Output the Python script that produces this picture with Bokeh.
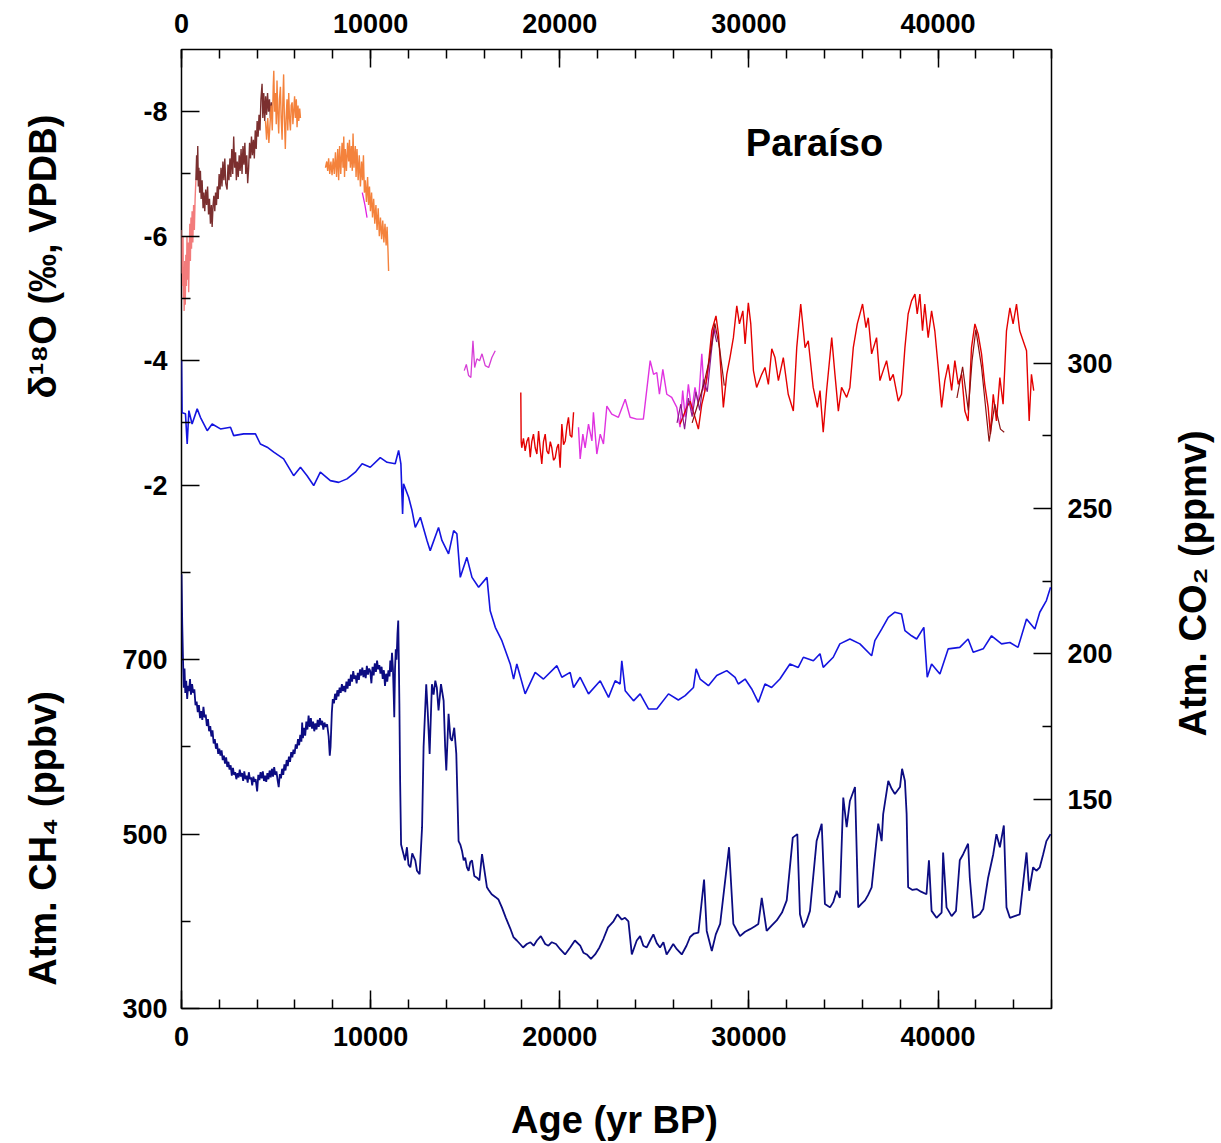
from bokeh.plotting import figure
from bokeh.layouts import row, column
from bokeh.models import Range1d, LinearAxis, FixedTicker, CustomJSTickFormatter, Label
from bokeh.core.properties import value
from bokeh.embed import file_html
from bokeh.resources import INLINE
import math

# ---------------- data ----------------
co2_age = [0, 30, 210, 300, 390, 560, 830, 1000, 1360, 1620, 2060, 2590, 2760, 3290, 3910, 4170, 4530, 4880,
           5400, 5930, 6290, 6640, 6990, 7340, 7870, 8310, 8750, 9190, 9550, 9980, 10510, 10870, 11300, 11480,
           11600, 11690, 11740, 12010, 12190, 12360, 12630, 12980, 13150, 13590, 13770, 14120, 14390, 14560,
           14740, 15090, 15360, 15710, 16150, 16320, 16590, 16940, 17380, 17560, 17730, 18170, 18700, 19140,
           19850, 20110, 20550, 20730, 21080, 21520, 22140, 22580, 22930, 23190, 23280, 23460, 23900, 24250,
           24690, 25130, 25750, 26270, 26630, 27070, 27210, 27420, 27860, 28300, 28830, 29270, 29440, 29800,
           30150, 30500, 30850, 31200, 31640, 32170, 32610, 32880, 33410, 33760, 33930, 34460, 34810, 35340,
           35870, 36490, 36660, 37020, 37370, 37720, 38070, 38250, 38600, 38870, 39250, 39430, 39660, 40100,
           40540, 41150, 41590, 41860, 42390, 42830, 43360, 43800, 44230, 44680, 45120, 45380, 45730, 45950]
co2_ppm = [301, 283, 282.6, 272.2, 283.7, 279.1, 284.3, 281.4, 276.8, 279.1, 277.4, 278, 275.1, 275.7, 275.7,
           272.2, 271.1, 269.4, 267.1, 261.3, 264.2, 261.3, 257.9, 262.5, 259.6, 259, 260.2, 262.5, 265.4, 264.2,
           267.5, 265.9, 265.4, 270, 265.4, 248.1, 258.5, 253.9, 249.3, 243.5, 247, 239, 235.5, 243.5, 239,
           234.4, 242.4, 241.3, 226.3, 233.2, 226.3, 222.9, 226.3, 214.8, 209.1, 204.5, 196.5, 191.3, 196.5,
           186.2, 193.6, 191.3, 195.9, 191.9, 193.6, 188.4, 191.9, 186.2, 190.7, 185, 190.7, 189.6, 197.6,
           187.3, 183.8, 186.2, 181, 181, 186.2, 184.1, 185.6, 188.4, 194.8, 191.3, 189, 192.5, 194.2, 191.9,
           189.6, 191.3, 187.9, 183.3, 189.6, 188.4, 191.3, 196.5, 195.3, 198.8, 197.6, 200, 195.3, 198.8,
           203.4, 205.1, 203.4, 199.3, 204.5, 208.5, 212.5, 214.3, 213.7, 208, 206.2, 205.1, 209.1, 191.9,
           196.5, 193, 201.7, 202.2, 205.1, 200.5, 201.7, 206.2, 203.4, 203.9, 202.2, 212, 208.5, 214.3, 218.3,
           222.9]

# CH4: Holocene part (0-11 ka) and older part
ch4_age_holo = [0, 40, 80, 120, 160, 200, 250, 300, 350, 400, 450, 500, 560, 620, 680, 740, 800, 860, 920, 980,
                1040, 1100, 1160, 1220, 1280, 1340, 1400, 1460, 1520, 1580, 1640, 1700, 1760, 1820, 1880, 1940,
                2000, 2060, 2120, 2180, 2240, 2300, 2360, 2420, 2480, 2540, 2600, 2660, 2720, 2780, 2840, 2900,
                2960, 3020, 3080, 3140, 3200, 3260, 3320, 3380, 3440, 3500, 3560, 3620, 3680, 3740, 3800, 3860,
                3920, 4000, 4060, 4120, 4180, 4240, 4300, 4360, 4420, 4480, 4540, 4600, 4660, 4720, 4780, 4840,
                4900, 4960, 5020, 5080, 5140, 5200, 5260, 5320, 5380, 5440, 5500, 5560, 5620, 5680, 5740, 5800,
                5860, 5920, 5980, 6040, 6100, 6160, 6220, 6280, 6340, 6380, 6420, 6480, 6540, 6600, 6660, 6720,
                6780, 6840, 6900, 6960, 7020, 7080, 7140, 7200, 7260, 7320, 7380, 7440, 7500, 7560, 7620, 7700,
                7780, 7840, 7880, 7950, 8000, 8060, 8120, 8180, 8240, 8300, 8360, 8420, 8480, 8540, 8600, 8660,
                8720, 8780, 8840, 8900, 8960, 9020, 9080, 9140, 9200, 9260, 9320, 9380, 9440, 9500, 9560, 9620,
                9680, 9740, 9800, 9860, 9920, 9980, 10040, 10100, 10160, 10220, 10280, 10340, 10400, 10460, 10520,
                10580, 10640, 10700, 10760, 10820, 10880, 10940, 11000]
ch4_ppb_holo = [798, 740, 700, 668, 690, 662, 676, 655, 670, 664, 678, 660, 672, 662, 666, 648, 652, 640, 648, 633,
                641, 631, 646, 634, 637, 624, 632, 618, 624, 612, 619, 604, 609, 598, 604, 592, 598,
                590, 596, 585, 590, 581, 588, 577, 583, 574, 579, 567, 576, 568, 571, 563, 570, 565,
                574, 566, 570, 561, 572, 563, 567, 559, 571, 563, 565, 556, 566, 560, 563, 549,
                568, 562, 571, 564, 572, 561, 567, 560, 570, 563, 573, 565, 575, 566, 577, 568, 572, 562,
                554, 569, 564, 575, 568, 580, 573, 585, 578, 589, 583, 594, 588, 597, 592, 603, 598,
                609, 602, 614, 606, 628, 610, 622, 613, 629, 620, 636, 623, 633, 621, 629, 618, 627,
                620, 631, 623, 633, 625, 630, 620, 628, 623, 626,
                612, 590, 600, 640, 655,
                650, 661, 654, 665, 658, 668, 662, 672, 664, 670, 663, 675, 667, 678, 670, 683, 675, 687, 678, 682,
                673, 685, 677, 689, 682, 691, 680, 688, 679, 693, 683, 690, 687,
                673, 692, 682, 696, 686, 699, 689, 694, 684, 692, 678, 688, 670, 684, 675, 688, 681]
ch4_age_old = [11040, 11080, 11130, 11180, 11220, 11250, 11290, 11330, 11370, 11420, 11460, 11490, 11520, 11560,
               11610, 11740, 11820, 11920, 12000, 12100, 12200, 12360, 12450, 12590, 12720, 12800, 12940, 13020,
               13120, 13240, 13330, 13420, 13500, 13590, 13720, 13860, 13940, 14000, 14120, 14220, 14300, 14420,
               14530, 14650, 14740, 14830, 14920, 15000, 15090, 15180, 15270, 15360, 15480, 15620, 15750, 15890,
               16060, 16150, 16240, 16400, 16590, 16760, 16940, 17150, 17380, 17550, 17730, 17900, 18060, 18260,
               18450, 18620, 18790, 19000, 19230, 19400, 19580, 19800, 20020, 20280, 20550, 20800, 21080, 21250,
               21430, 21650, 21870, 22100, 22310, 22550, 22840, 23050, 23280, 23450, 23630, 23810, 24070, 24250,
               24420, 24600, 24780, 24950, 25130, 25300, 25480, 25650, 25830, 26000, 26190, 26450, 26700, 26890,
               27100, 27330, 27630, 27770, 28040, 28250, 28480, 28950, 29180, 29350, 29530, 29800, 30060, 30300,
               30500, 30680, 30940, 31200, 31470, 31750, 32000, 32320, 32560, 32700, 32880, 33050, 33230, 33580,
               33850, 34020, 34290, 34460, 34640, 34810, 34990, 35170, 35340, 35610, 35780, 35950, 36140, 36300,
               36490, 36840, 37020, 37100, 37370, 37550, 37720, 37990, 38100, 38250, 38340, 38420, 38650, 38870,
               39100, 39390, 39520, 39660, 39920, 40190, 40270, 40450, 40720, 40950, 41150, 41330, 41590, 41680,
               41860, 42050, 42210, 42390, 42650, 42920, 43090, 43270, 43480, 43620, 43800, 44050, 44320, 44680,
               44820, 45030, 45200, 45380, 45550, 45730, 45950]
ch4_ppb_old = [699, 686, 708, 690, 660, 634, 690, 712, 700, 730, 745, 700, 650, 560, 488, 477, 470, 485, 465, 462,
               478, 470, 458, 454, 508, 600, 672, 640, 592, 672, 660, 676, 668, 642, 672, 653, 600, 573, 638, 610,
               607, 622, 592, 492, 488, 481, 470, 473, 462, 458, 468, 470, 452, 450, 447, 477, 452, 439, 436, 431,
               428, 425, 416, 404, 392, 382, 378, 374, 370, 374, 376, 372, 378, 383, 374, 372, 376, 374, 368, 362,
               370, 378, 372, 364, 362, 357, 362, 370, 380, 393, 400, 408, 402, 404, 400, 362, 378, 383, 372, 370,
               378, 385, 375, 370, 376, 362, 368, 374, 368, 362, 372, 382, 386, 387, 448, 389, 366, 385, 397, 485,
               397, 390, 383, 388, 391, 394, 397, 427, 389, 395, 401, 410, 424, 496, 500, 408, 393, 400, 412, 492,
               512, 420, 416, 422, 435, 427, 542, 508, 538, 554, 416, 420, 424, 430, 439, 512, 492, 523, 561, 552,
               546, 554, 575, 561, 523, 439, 436, 437, 434, 431, 470, 412, 404, 410, 479, 416, 406, 412, 470, 477,
               489, 450, 404, 406, 408, 414, 450, 477, 500, 485, 510, 416, 404, 406, 408, 479, 435, 462, 458, 462,
               476, 492, 500]
ch4_age = ch4_age_holo + ch4_age_old
ch4_ppb = ch4_ppb_holo + ch4_ppb_old

# delta18O (permil VPDB), several speleothem records
pink_age = [0, 20, 40, 60, 80, 100, 120, 140, 170, 200, 230, 260, 290, 320, 350, 380, 410, 440, 470, 500, 530,
            560, 600, 640, 680, 720, 760]
pink_d18o = [-6.1, -5.4, -5.9, -5.2, -6.0, -5.0, -5.5, -4.8, -5.6, -4.9, -5.7, -5.2, -6.0, -5.3, -5.9, -5.1,
             -5.7, -6.2, -5.6, -6.3, -5.8, -6.4, -5.9, -6.5, -6.1, -6.6, -6.9]

brown_age = [760, 800, 830, 860, 890, 920, 960, 1000, 1040, 1090, 1140, 1180, 1230, 1280, 1330, 1380, 1430,
             1480, 1530, 1580, 1620, 1670, 1710, 1760, 1800, 1850, 1890, 1940, 1990, 2040, 2090, 2140, 2190,
             2240, 2290, 2340, 2410, 2460, 2510, 2560, 2610, 2660, 2710, 2760, 2810, 2860, 2900, 2950, 3000,
             3050, 3100, 3150, 3200, 3250, 3300, 3350, 3400, 3450, 3500, 3550, 3600, 3650, 3700, 3750, 3800,
             3850, 3900, 3950, 4000, 4050, 4100, 4150, 4200, 4260, 4300, 4350, 4400, 4450, 4500, 4550, 4600,
             4650, 4700, 4750, 4790]
brown_d18o = [-6.9, -7.3, -6.9, -7.45, -6.8, -7.1, -6.7, -7.05, -6.6, -6.9, -6.45, -6.7, -6.4, -6.75, -6.5,
              -6.8, -6.35, -6.6, -6.2, -6.5, -6.15, -6.5, -6.65, -6.4, -6.7, -6.5, -6.8, -6.6, -7.0, -6.75, -7.1,
              -6.8, -7.2, -6.9, -7.25, -6.85, -6.75, -7.15, -6.9, -7.25, -6.95, -7.4, -7.0, -7.6, -7.1, -7.35,
              -6.9, -7.2, -6.95, -7.3, -7.05, -7.4, -7.0, -7.45, -7.15, -7.5, -7.0, -7.3, -6.85, -7.1, -7.5, -7.25,
              -7.6, -7.3, -7.55, -7.25, -7.7, -7.4, -7.85, -7.6, -7.95, -7.7, -8.2, -8.45, -7.9, -8.3, -7.85,
              -8.25, -7.95, -8.3, -8.0, -8.2, -7.9, -8.15, -8.0]

orange1_age = [4440, 4500, 4560, 4620, 4680, 4740, 4800, 4850, 4880, 4920, 4970, 5010, 5050, 5090, 5140, 5180,
               5230, 5270, 5320, 5360, 5400, 5440, 5490, 5530, 5580, 5620, 5670, 5710, 5760, 5800, 5850, 5890,
               5930, 5980, 6020, 6070, 6110, 6160, 6200, 6250, 6290]
orange1_d18o = [-7.85, -7.55, -7.9, -7.5, -7.8, -8.1, -7.7, -8.4, -8.66, -8.0, -8.3, -7.8, -8.5, -8.0, -7.65,
                -8.2, -8.4, -7.9, -7.55, -8.2, -8.6, -7.9, -7.4, -7.9, -8.2, -7.7, -8.3, -7.9, -7.7, -8.1, -8.15,
                -7.8, -8.0, -8.25, -7.9, -8.2, -7.75, -8.1, -7.85, -8.05, -7.9]

orange2_age = [7610, 7680, 7730, 7780, 7840, 7900, 7960, 8020, 8080, 8140, 8200, 8260, 8310, 8360, 8420, 8490,
               8540, 8580, 8620, 8660, 8720, 8780, 8840, 8880, 8930, 8980, 9030, 9070, 9120, 9190, 9230, 9280,
               9340, 9400, 9460, 9520, 9570, 9620, 9670, 9720, 9780, 9840, 9890, 9940, 9990, 10050, 10100, 10160,
               10220, 10280, 10340, 10400, 10460, 10520, 10580, 10640, 10700, 10760, 10820, 10870, 10920, 10950]
orange2_d18o = [-7.1, -7.2, -7.05, -7.25, -7.0, -7.2, -6.98, -7.25, -7.0, -7.35, -6.95, -7.4, -6.9, -7.45, -7.0,
                -7.5, -7.1, -7.6, -6.95, -7.4, -7.05, -7.5, -7.2, -7.55, -7.1, -7.45, -7.05, -7.65, -7.1, -7.45,
                -6.95, -7.4, -6.9, -7.3, -6.8, -7.2, -6.9, -7.3, -6.7, -6.9, -6.55, -6.95, -6.5, -6.8, -6.4, -6.7,
                -6.3, -6.6, -6.2, -6.5, -6.1, -6.45, -6.0, -6.3, -5.95, -6.25, -5.9, -6.2, -5.85, -6.15, -5.75,
                -5.44]

mag1_age = [9560, 9700, 9810]
mag1_d18o = [-6.7, -6.5, -6.3]

mag2_age = [14950, 15060, 15180, 15300, 15410, 15500, 15620, 15760, 15890, 16060, 16240, 16410, 16590]
mag2_d18o = [-3.84, -3.94, -3.76, -3.73, -4.32, -3.89, -4.03, -4.0, -4.11, -3.92, -3.89, -4.05, -4.16]

red1_age = [17940, 17960, 17990, 18080, 18170, 18260, 18350, 18440, 18520, 18610, 18700, 18790, 18880, 18960,
            19050, 19140, 19230, 19320, 19410, 19500, 19580, 19670, 19760, 19850, 19930, 20020, 20110, 20200,
            20290, 20380, 20460, 20550, 20640, 20730]
red1_d18o = [-3.49, -2.7, -2.6, -2.75, -2.55, -2.7, -2.77, -2.45, -2.7, -2.82, -2.6, -2.5, -2.87, -2.6, -2.34,
             -2.7, -2.82, -2.55, -2.5, -2.7, -2.6, -2.4, -2.44, -2.6, -2.66, -2.28, -2.98, -2.65, -2.71, -2.95,
             -3.09, -2.8, -2.77, -3.17]

mag3_age = [20990, 21080, 21220, 21340, 21520, 21700, 21780, 21960, 22140, 22310, 22490, 22750, 23100, 23460,
            23720, 24070, 24420, 24780, 24960, 25130, 25270, 25450, 25660, 25920, 26190, 26360, 26500, 26630,
            26800, 26980, 27150, 27330, 27510, 27630, 27800, 27980, 28120, 28300]
mag3_d18o = [-2.93, -2.42, -2.82, -2.6, -2.98, -2.71, -3.17, -2.5, -2.82, -2.66, -3.27, -3.14, -3.09, -3.38,
             -3.09, -3.06, -3.06, -4.0, -3.78, -3.81, -3.46, -3.86, -3.46, -3.41, -3.25, -2.93, -3.52, -3.09,
             -3.62, -3.19, -3.57, -3.3, -4.11, -3.52, -3.73, -4.16, -4.53, -4.43]

purple_age = [26200, 26400, 26600, 26800, 27000, 27200, 27400, 27600, 27800, 28000, 28150, 28300]
purple_d18o = [-3.0, -3.3, -2.9, -3.4, -3.1, -3.5, -3.2, -3.7, -3.5, -4.1, -4.5, -4.3]

red2_age = [26360, 26720, 26890, 27150, 27330, 27510, 27680, 27860, 28040, 28260, 28390, 28510, 28650, 28830,
            29000, 29180, 29360, 29500, 29680, 29800, 29970, 30100, 30240, 30410, 30680, 30850, 31030, 31210,
            31380, 31560, 31820, 32080, 32350, 32530, 32740, 32970, 33140, 33400, 33620, 33760, 33930, 34110,
            34380, 34550, 34730, 34900, 35170, 35340, 35520, 35730, 36010, 36190, 36310, 36490, 36750, 36930,
            37100, 37280, 37460, 37630, 37900, 38070, 38250, 38420, 38600, 38780, 38900, 39040, 39180, 39300,
            39480, 39660, 39830, 40010, 40190, 40360, 40540, 40720, 40890, 41070, 41250, 41420, 41590, 41770,
            41950, 42120, 42300, 42470, 42650, 42770, 42920, 43090, 43270, 43440, 43620, 43800, 43970, 44150,
            44320, 44500, 44680, 44820, 44940, 45060]
red2_d18o = [-2.98, -3.25, -3.35, -3.09, -2.9, -3.3, -3.52, -3.94, -4.48, -4.72, -4.43, -3.89, -3.25, -3.78,
             -4.05, -4.37, -4.88, -4.59, -4.8, -4.27, -4.93, -4.59, -3.84, -3.57, -3.78, -3.89, -3.62, -4.19,
             -4.05, -3.68, -4.05, -3.46, -3.19, -4.21, -4.91, -4.21, -4.32, -3.57, -3.25, -3.52, -2.85, -3.52,
             -4.37, -3.78, -3.19, -3.57, -3.41, -3.57, -4.21, -4.59, -4.91, -4.53, -4.69, -4.11, -4.37, -3.68,
             -3.84, -4.0, -3.68, -3.78, -3.35, -3.46, -4.21, -4.75, -4.96, -5.07, -4.75, -5.07, -4.48, -4.91,
             -4.37, -4.8, -4.48, -3.89, -3.25, -3.68, -3.94, -3.52, -4.0, -3.62, -3.78, -3.19, -3.03, -4.21,
             -4.59, -4.43, -4.11, -3.62, -3.25, -2.82, -3.46, -3.03, -3.73, -3.3, -4.48, -4.85, -4.59, -4.91,
             -4.48, -4.32, -4.16, -3.03, -3.78, -3.52]

dkred_age = [27000, 27300, 27600, 27900, 28200, 28450, 28700, 41000, 41300, 41600, 41800, 42000, 42300, 42500,
             42700, 43000, 43300, 43500]
dkred_d18o = [-3.0, -3.3, -3.6, -4.0, -4.6, -4.2, -3.6, -3.4, -3.9, -3.2, -4.0, -4.5, -3.9, -3.3, -2.7, -3.3,
              -2.9, -2.85]
dkred_break = 7  # the dark-red overlay is two separate pieces

x_major = [0, 10000, 20000, 30000, 40000]
x_minor = list(range(0, 46001, 2000))
d18o_major = [-8, -6, -4, -2]
d18o_minor = [-7, -5, -3]
ch4_major = [300, 500, 700]
ch4_minor = [400, 600, 800]
co2_major = [150, 200, 250, 300]
co2_minor = [175, 225, 275]

title_x = "Age (yr BP)"
title_d18o = "δ¹⁸O (‰, VPDB)"
title_ch4 = "Atm. CH₄ (ppbv)"
title_co2 = "Atm. CO₂ (ppmv)"
site_name = "Paraíso"

# ---------------- layout constants (pixels) ----------------
W, H = 1221, 1143
LEFT_W, RIGHT_W = 80, 71
TOP_H = 1085            # height of the row holding the main plot
BOTTOM_H = H - TOP_H
MAIN_W = W - LEFT_W - RIGHT_W
FRAME_L, FRAME_R, FRAME_T, FRAME_B = 181, 1051, 49, 1008

X_LO, X_HI = 0, 46000
CH4_LO, CH4_HI = 300, 1400
D_BOT, D_TOP = 6.41, -9.0
CO2_LO, CO2_HI = 77.9, 408.0

FONT = "Liberation Sans"

p = figure(width=MAIN_W, height=TOP_H, output_backend="svg", toolbar_location=None,
           x_range=Range1d(X_LO, X_HI), y_range=Range1d(CH4_LO, CH4_HI),
           x_axis_location=None, y_axis_location=None,
           min_border_left=FRAME_L - LEFT_W, min_border_right=(LEFT_W + MAIN_W) - FRAME_R,
           min_border_top=FRAME_T, min_border_bottom=TOP_H - FRAME_B)
p.extra_y_ranges = {"d18o": Range1d(D_BOT, D_TOP), "co2": Range1d(CO2_LO, CO2_HI)}
p.outline_line_color = "black"
p.outline_line_width = 1.5
p.background_fill_color = "white"
p.border_fill_color = "white"
p.xgrid.grid_line_color = None
p.ygrid.grid_line_color = None


def style_axis(ax, size="27px"):
    ax.axis_line_color = None
    ax.major_tick_out = 0
    ax.major_tick_in = 18
    ax.minor_tick_out = 0
    ax.minor_tick_in = 9
    ax.major_tick_line_color = "black"
    ax.minor_tick_line_color = "black"
    ax.major_tick_line_width = 1.5
    ax.minor_tick_line_width = 1.5
    ax.major_label_text_font = FONT
    ax.major_label_text_font_style = "bold"
    ax.major_label_text_font_size = size
    ax.major_label_text_color = "black"


# x axes (bottom and top)
xb = LinearAxis(ticker=FixedTicker(ticks=x_major, minor_ticks=x_minor))
style_axis(xb)
xb.major_label_standoff = 18
p.add_layout(xb, "below")

xt = LinearAxis(ticker=FixedTicker(ticks=x_major, minor_ticks=x_minor))
style_axis(xt)
xt.major_label_standoff = 17
p.add_layout(xt, "above")


# left axis: shared by delta18O (top) and CH4 (bottom) scales
def d18o_to_ch4(d):
    return CH4_LO + (d - D_BOT) / (D_TOP - D_BOT) * (CH4_HI - CH4_LO)


left_pos = [d18o_to_ch4(d) for d in d18o_major] + list(ch4_major)
left_lab = [str(d) for d in d18o_major] + [str(c) for c in ch4_major]
left_minor = [d18o_to_ch4(d) for d in d18o_minor] + list(ch4_minor)
yl = LinearAxis(ticker=FixedTicker(ticks=left_pos, minor_ticks=left_minor))
style_axis(yl)
yl.major_label_standoff = 14
yl.formatter = CustomJSTickFormatter(args=dict(pos=left_pos, lab=left_lab), code="""
let best = 0, bd = Infinity;
for (let i = 0; i < pos.length; i++) {
  const d = Math.abs(pos[i] - tick);
  if (d < bd) { bd = d; best = i; }
}
return lab[best];
""")
p.add_layout(yl, "left")

# right axis: CO2
yr = LinearAxis(y_range_name="co2", ticker=FixedTicker(ticks=co2_major, minor_ticks=co2_minor))
style_axis(yr)
yr.major_label_standoff = 16
p.add_layout(yr, "right")

# ---------------- lines ----------------
p.line(co2_age, co2_ppm, y_range_name="co2", line_color="#1414e0", line_width=1.6)
p.line(ch4_age, ch4_ppb, line_color="#0c0c82", line_width=1.8)

p.line(pink_age, pink_d18o, y_range_name="d18o", line_color="#f27b7b", line_width=1.4)
p.line(brown_age, brown_d18o, y_range_name="d18o", line_color="#7b2f2f", line_width=1.4)
p.line(orange1_age, orange1_d18o, y_range_name="d18o", line_color="#f4823c", line_width=1.4)
p.line(orange2_age, orange2_d18o, y_range_name="d18o", line_color="#f4823c", line_width=1.4)
p.line(mag1_age, mag1_d18o, y_range_name="d18o", line_color="#e020e0", line_width=1.3)
p.line(mag2_age, mag2_d18o, y_range_name="d18o", line_color="#d63cd6", line_width=1.3)
p.line(red1_age, red1_d18o, y_range_name="d18o", line_color="#e40000", line_width=1.4)
p.line(mag3_age, mag3_d18o, y_range_name="d18o", line_color="#e033e0", line_width=1.4)
p.line(red2_age, red2_d18o, y_range_name="d18o", line_color="#e40000", line_width=1.4)
p.line(purple_age, purple_d18o, y_range_name="d18o", line_color="#8a1a8a", line_width=1.2)
p.line(dkred_age[:dkred_break], dkred_d18o[:dkred_break], y_range_name="d18o", line_color="#8b1010", line_width=1.2)
p.line(dkred_age[dkred_break:], dkred_d18o[dkred_break:], y_range_name="d18o", line_color="#8b1010", line_width=1.2)

p.add_layout(Label(x=633, y=866, x_units="screen", y_units="screen", text=site_name,
                   text_font=FONT, text_font_style="bold", text_font_size="38px", text_color="black",
                   text_align="center", text_baseline="alphabetic"))


# ---------------- side strips holding the axis titles ----------------
# The row aligns the strips' frames with the main frame, so their y range is given in
# window pixels between the main frame's bottom and top edges.
def strip(width, height, x0, y_bottom, y_top):
    s = figure(width=width, height=height, output_backend="svg", toolbar_location=None,
               x_range=Range1d(x0, x0 + width), y_range=Range1d(y_bottom, y_top),
               x_axis_location=None, y_axis_location=None,
               min_border=0, min_border_left=0, min_border_right=0, min_border_top=0, min_border_bottom=0)
    s.outline_line_color = None
    s.xgrid.grid_line_color = None
    s.ygrid.grid_line_color = None
    s.background_fill_color = "white"
    s.border_fill_color = "white"
    return s


def vtitle(s, x, y, text):
    s.text(x=[x], y=[y], text=[text], angle=math.pi / 2, text_font=value(FONT), text_font_style="bold",
           text_font_size="38px", text_color="black", text_align="center", text_baseline="middle")


left_strip = strip(LEFT_W, TOP_H, 0, FRAME_B, FRAME_T)
vtitle(left_strip, 42, 256, title_d18o)
vtitle(left_strip, 42, 838, title_ch4)

right_strip = strip(RIGHT_W, TOP_H, LEFT_W + MAIN_W, FRAME_B, FRAME_T)
vtitle(right_strip, 1192, 583, title_co2)

bottom_strip = strip(W, BOTTOM_H, 0, H, TOP_H)
bottom_strip.text(x=[614], y=[1119], text=[title_x], text_font=value(FONT), text_font_style="bold",
                  text_font_size="38px", text_color="black", text_align="center", text_baseline="middle")

layout = column(row(left_strip, p, right_strip, spacing=0), bottom_strip, spacing=0)
open("out.html", "w").write(file_html(layout, INLINE))
